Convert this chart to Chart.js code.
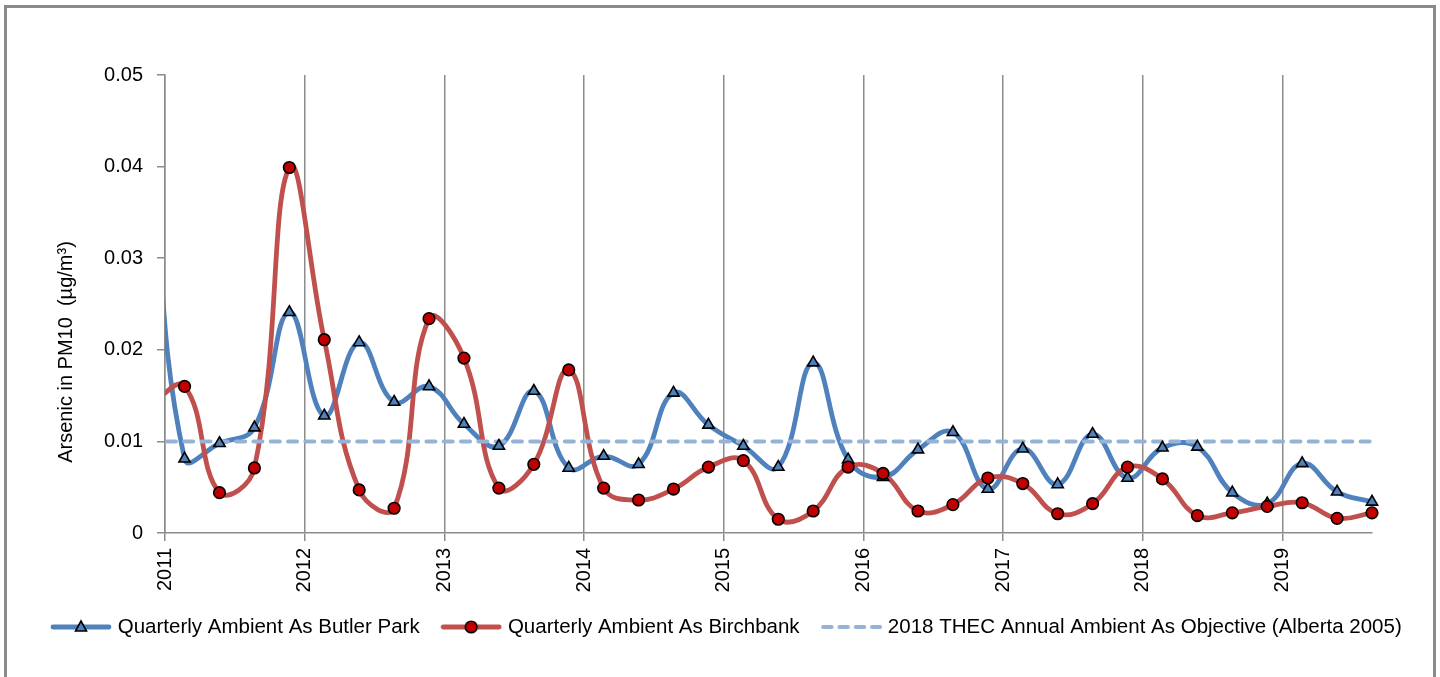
<!DOCTYPE html>
<html>
<head>
<meta charset="utf-8">
<script src="https://cdn.jsdelivr.net/npm/chart.js@4.4.1/dist/chart.umd.min.js"></script>
<style>
  html, body { margin: 0; padding: 0; overflow: hidden; background: #fff; }
  #frame { position: absolute; left: 4px; top: 5px; width: 1426px; height: 700px; border: 3px solid #8a8a8a; }
  #chart { position: absolute; left: 0; top: 0; }
</style>
</head>
<body>
<div id="frame"></div>
<canvas id="chart" width="1440" height="677"></canvas>
<script>
// Sample dates as decimal years (quarterly samples)
const dates = [2010.89,
  2011.14, 2011.39, 2011.64, 2011.89,
  2012.14, 2012.39, 2012.64, 2012.89,
  2013.14, 2013.39, 2013.64, 2013.89,
  2014.14, 2014.39, 2014.64, 2014.89,
  2015.14, 2015.39, 2015.64, 2015.89,
  2016.14, 2016.39, 2016.64, 2016.89,
  2017.14, 2017.39, 2017.64, 2017.89,
  2018.14, 2018.39, 2018.64, 2018.89,
  2019.14, 2019.39, 2019.64];

const butlerPark = [0.045,
  0.0081, 0.0098, 0.0115, 0.0241,
  0.0128, 0.0208, 0.0143, 0.0160,
  0.0119, 0.0095, 0.0155, 0.0071,
  0.0084, 0.0075, 0.0153, 0.0118,
  0.0095, 0.0072, 0.0186, 0.0080,
  0.0061, 0.0091, 0.0110, 0.0048,
  0.0092, 0.0053, 0.0108, 0.0060,
  0.0093, 0.0094, 0.0044, 0.0032,
  0.0076, 0.0045, 0.0034];

const birchbank = [0.014,
  0.0160, 0.0044, 0.0071, 0.0399,
  0.0211, 0.0047, 0.0027, 0.0234,
  0.0191, 0.0049, 0.0075, 0.0178,
  0.0049, 0.0036, 0.0048, 0.0072,
  0.0079, 0.0015, 0.0024, 0.0072,
  0.0065, 0.0024, 0.0031, 0.0060,
  0.0054, 0.0021, 0.0032, 0.0072,
  0.0059, 0.0019, 0.0022, 0.0029,
  0.0033, 0.0016, 0.0022];

const objectiveValue = 0.01;
const yearTicks = [2011, 2012, 2013, 2014, 2015, 2016, 2017, 2018, 2019];

const labels = [
  "Quarterly Ambient As Butler Park",
  "Quarterly Ambient As Birchbank",
  "2018 THEC Annual Ambient As Objective (Alberta 2005)"
];
const yTitle = "Arsenic in PM10  (µg/m³)";

const BLUE = "#4F81BD";
const RED = "#C0504D";
const RED_DOT = "#C00000";
const LIGHT = "#95B3D7";
const GRID = "#8c8c8c";
const FONT = "'Liberation Sans', Arial, sans-serif";

const pts = (ys) => dates.map((d, i) => ({x: d, y: ys[i]}));

// legend icons: line with marker in the middle
function legendIcon(kind) {
  const c = document.createElement("canvas");
  c.width = 62; c.height = 18;
  const g = c.getContext("2d");
  g.lineCap = "round";
  g.lineWidth = 4.8;
  if (kind === "dash") {
    g.strokeStyle = LIGHT;
    g.lineWidth = 4;
    g.setLineDash([8.5, 7.8]);
    g.beginPath(); g.moveTo(3, 9); g.lineTo(60, 9); g.stroke();
    return c;
  }
  g.strokeStyle = kind === "tri" ? BLUE : RED;
  g.beginPath(); g.moveTo(3, 9); g.lineTo(59, 9); g.stroke();
  g.lineWidth = 1.6;
  g.strokeStyle = "#000";
  g.beginPath();
  if (kind === "tri") {
    g.fillStyle = BLUE;
    g.moveTo(31, 3); g.lineTo(36.5, 13); g.lineTo(25.5, 13); g.closePath();
  } else {
    g.fillStyle = RED_DOT;
    g.arc(31, 9, 5.8, 0, Math.PI * 2);
  }
  g.fill(); g.stroke();
  return c;
}
const icons = [legendIcon("tri"), legendIcon("dot"), legendIcon("dash")];

// y axis title placed like the original (below the axis centre)
const yTitlePlugin = {
  id: "yTitle",
  afterDraw(chart) {
    const ctx = chart.ctx;
    ctx.save();
    ctx.translate(66, 352);
    ctx.rotate(-Math.PI / 2);
    ctx.font = "20px " + FONT;
    ctx.fillStyle = "#000";
    ctx.textAlign = "center";
    ctx.textBaseline = "middle";
    ctx.fillText(yTitle, 0, 0);
    ctx.restore();
  }
};

new Chart(document.getElementById("chart"), {
  type: "line",
  data: {
    datasets: [
      {
        label: labels[0],
        data: pts(butlerPark),
        borderColor: BLUE,
        borderWidth: 4.8,
        tension: 0.42,
        pointRadius: 0,
        clip: 0,
        order: 5
      },
      {
        label: labels[1],
        data: pts(birchbank),
        borderColor: RED,
        borderWidth: 4.8,
        tension: 0.42,
        pointRadius: 0,
        clip: 0,
        order: 4
      },
      {
        label: labels[2],
        data: dates.map((d) => ({x: d, y: objectiveValue})),
        borderColor: LIGHT,
        borderWidth: 4,
        borderDash: [9, 8.3],
        borderCapStyle: "round",
        pointRadius: 0,
        clip: 0,
        order: 3
      },
      {
        // markers drawn above all lines
        label: "markers-butler",
        data: pts(butlerPark),
        showLine: false,
        pointStyle: "triangle",
        pointRadius: 6.5,
        pointBackgroundColor: BLUE,
        pointBorderColor: "#000",
        pointBorderWidth: 1.6,
        clip: {left: 0, top: 10, right: 10, bottom: 10},
        order: 2
      },
      {
        label: "markers-birch",
        data: pts(birchbank),
        showLine: false,
        pointStyle: "circle",
        pointRadius: 5.8,
        pointBackgroundColor: RED_DOT,
        pointBorderColor: "#000",
        pointBorderWidth: 1.6,
        clip: {left: 0, top: 10, right: 10, bottom: 10},
        order: 1
      }
    ]
  },
  options: {
    responsive: false,
    animation: false,
    layout: {padding: {left: 29.5, top: 75, right: 0, bottom: 29.75}},
    scales: {
      x: {
        type: "linear",
        min: 2011,
        max: 2019.64,
        afterBuildTicks: (s) => { s.ticks = yearTicks.map((v) => ({value: v})); },
        afterFit: (s) => { s.height = 58.75; },
        grid: {color: GRID, lineWidth: 1.5, tickLength: 8},
        border: {color: GRID, width: 1.5},
        ticks: {
          minRotation: 90,
          maxRotation: 90,
          padding: 7,
          color: "#000",
          font: {family: FONT, size: 20},
          callback: (v) => String(v)
        }
      },
      y: {
        min: 0,
        max: 0.05,
        afterFit: (s) => { s.width = 135.5; },
        grid: {drawOnChartArea: false, color: GRID, lineWidth: 1.5, tickLength: 8},
        border: {color: GRID, width: 1.5},
        ticks: {
          stepSize: 0.01,
          padding: 14,
          color: "#000",
          font: {family: FONT, size: 20},
          callback: (v) => (v === 0 ? "0" : v.toFixed(2))
        }
      },
      // empty right-hand box: keeps the plot narrower than the legend row
      spacer: {
        position: "right",
        grid: {display: false},
        border: {display: false},
        ticks: {display: false},
        afterFit: (s) => { s.width = 68; }
      }
    },
    plugins: {
      tooltip: {enabled: false},
      legend: {
        position: "bottom",
        align: "start",
        labels: {
          usePointStyle: true,
          pointStyleWidth: 53,
          padding: 25,
          color: "#000",
          font: {family: FONT, size: 20.5},
          generateLabels: () => labels.map((t, i) => ({
            text: t,
            pointStyle: icons[i],
            fillStyle: "#fff",
            strokeStyle: "#fff",
            lineWidth: 0,
            hidden: false,
            datasetIndex: i
          }))
        }
      }
    }
  },
  plugins: [yTitlePlugin]
});
</script>
</body>
</html>
